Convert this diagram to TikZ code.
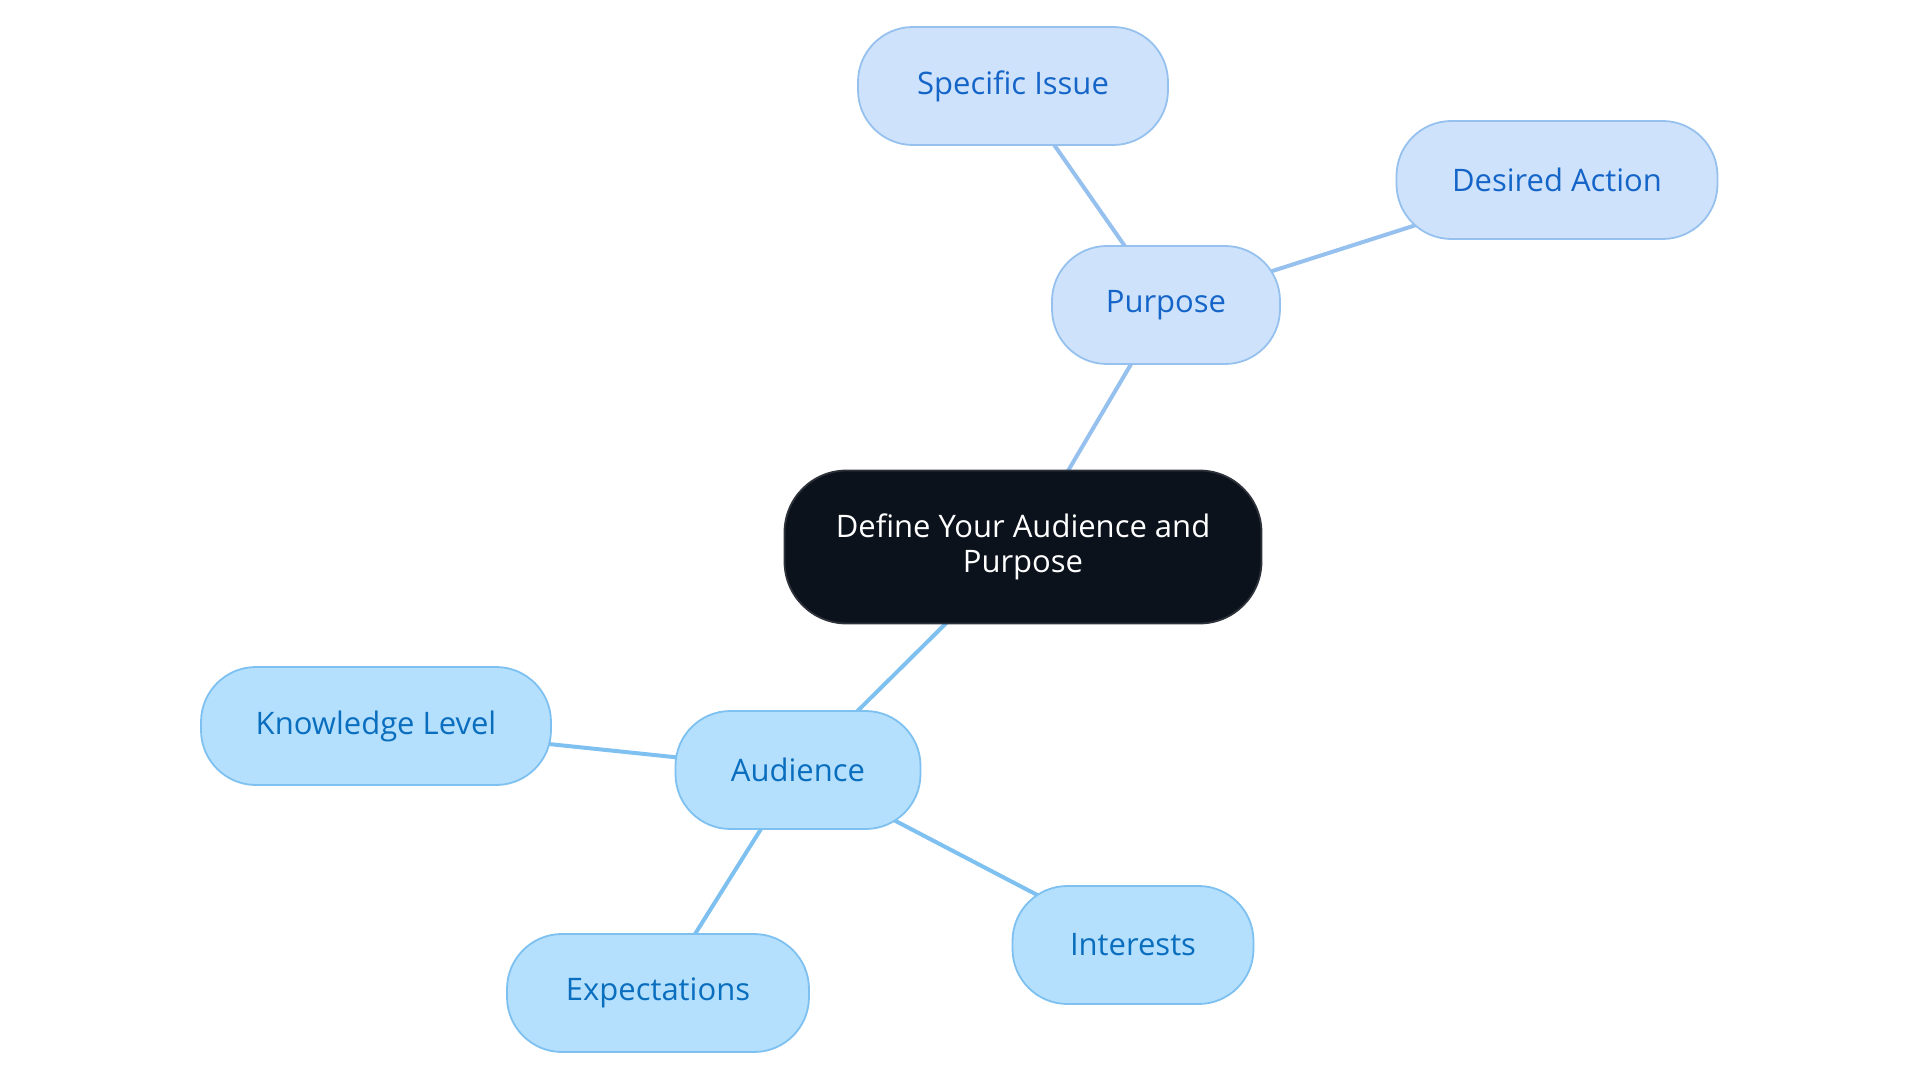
\documentclass[tikz,border=0pt]{standalone}
\usepackage{fontspec}
\setmainfont{Open Sans}
\definecolor{pfill}{HTML}{CEE3FB}
\definecolor{pdraw}{HTML}{96C1EF}
\definecolor{ptext}{HTML}{1565C8}
\definecolor{afill}{HTML}{B4DFFD}
\definecolor{adraw}{HTML}{7EC1F1}
\definecolor{atext}{HTML}{0A6EBE}
\definecolor{cfill}{HTML}{0C121C}
\definecolor{cdraw}{HTML}{2E333B}
\pgfdeclarelayer{bg}
\pgfsetlayers{bg,main}
\tikzset{
  base/.style={rounded corners=55pt, line width=1.8pt, inner sep=0pt, minimum height=118pt, align=center, font=\fontsize{31}{35}\selectfont},
  pnode/.style={base, fill=pfill, draw=pdraw, text=ptext},
  anode/.style={base, fill=afill, draw=adraw, text=atext},
  cnode/.style={base, fill=cfill, draw=cdraw, text=white, rounded corners=62pt, minimum height=153pt},
  pedge/.style={draw=pdraw, line width=4pt},
  aedge/.style={draw=adraw, line width=4pt}
}
\begin{document}
\begin{tikzpicture}[x=1pt,y=-1pt]
\useasboundingbox (0,0) rectangle (1920,1083);
\node[cnode, minimum width=477pt] (c) at (1023,547) {Define Your Audience and\\Purpose};
\node[pnode, minimum width=228pt] (p) at (1166,305) {Purpose};
\node[pnode, minimum width=310pt] (s) at (1013,86) {Specific Issue};
\node[pnode, minimum width=321pt] (d) at (1557,180) {Desired Action};
\node[anode, minimum width=245pt] (a) at (798,770) {Audience};
\node[anode, minimum width=350pt] (k) at (376,726) {Knowledge Level};
\node[anode, minimum width=241pt] (i) at (1133,945) {Interests};
\node[anode, minimum width=302pt] (e) at (658,993) {Expectations};
\begin{pgfonlayer}{bg}
\draw[pedge] (c.center) -- (p.center);
\draw[pedge] (p.center) -- (s.center);
\draw[pedge] (p.center) -- (d.center);
\draw[aedge] (c.center) -- (a.center);
\draw[aedge] (a.center) -- (k.center);
\draw[aedge] (a.center) -- (i.center);
\draw[aedge] (a.center) -- (e.center);
\end{pgfonlayer}
\end{tikzpicture}
\end{document}
